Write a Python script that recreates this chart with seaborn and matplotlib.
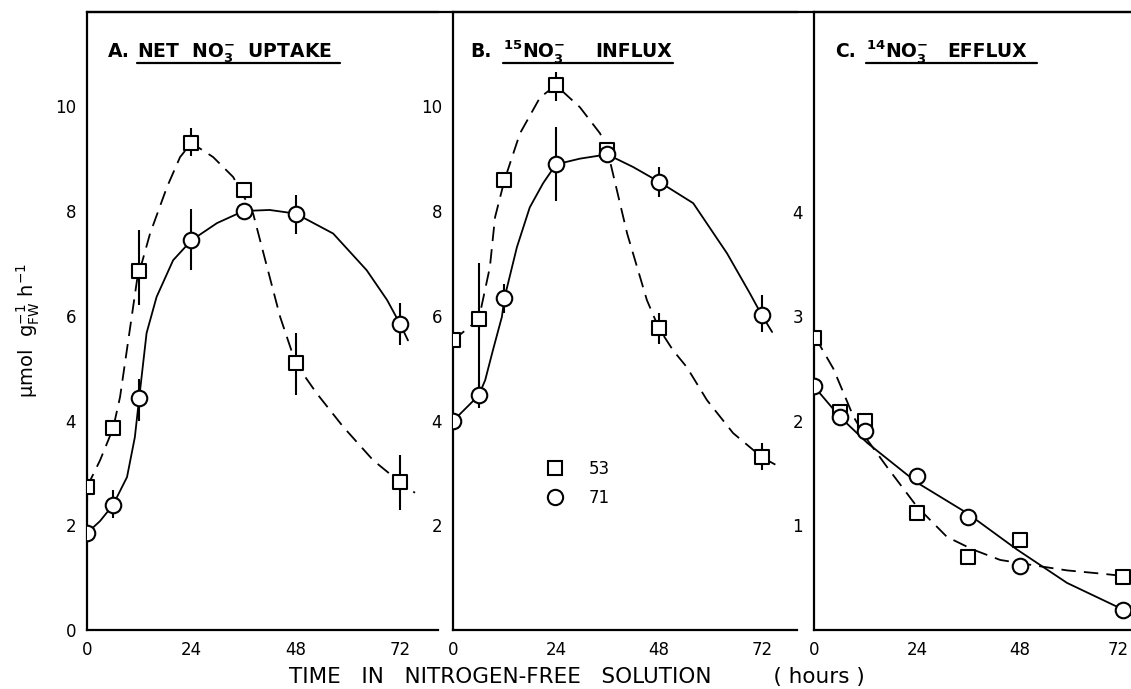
import numpy as np
import pandas as pd
import seaborn as sns
import matplotlib.pyplot as plt
import matplotlib.transforms as mtransforms
from matplotlib.lines import Line2D

# sampling times (hours)
hours = [0, 6, 12, 24, 36, 48, 72]

# panel A: net NO3- uptake
a_53 = [2.73, 3.85, 6.85, 9.30, 8.41, 5.09, 2.82]
a_53_lo = [2.45, np.nan, 6.20, 9.06, np.nan, 4.48, 2.29]
a_53_hi = [3.00, 5.06, 7.63, 9.58, 9.24, 5.67, 3.34]
a_71 = [1.85, 2.39, 4.43, 7.44, 8.00, 7.95, 5.84]
a_71_lo = [1.45, 2.14, 4.00, 6.87, 7.50, 7.57, 5.44]
a_71_hi = [np.nan, 2.67, 4.80, 8.03, np.nan, 8.30, 6.24]

# panel B: 15NO3- influx
b_53 = [5.53, 5.93, 8.59, 10.40, 9.16, 5.76, 3.30]
b_53_lo = [np.nan, 4.60, 8.15, 10.10, np.nan, 5.47, 3.05]
b_53_hi = [np.nan, 7.00, np.nan, 10.65, 9.83, 6.05, 3.57]
b_71 = [3.99, 4.48, 6.34, 8.89, 9.08, 8.56, 6.01]
b_71_lo = [np.nan, 4.23, 6.05, 8.20, np.nan, 8.27, 5.69]
b_71_hi = [np.nan, 4.71, 6.60, 9.60, np.nan, 8.85, 6.39]

# panel C: 14NO3- efflux
c_53 = [2.79, 2.08, 2.00, 1.12, 0.70, 0.86, 0.51]
c_53_lo = [np.nan, np.nan, np.nan, 0.91, 0.55, np.nan, np.nan]
c_53_hi = [np.nan, 2.39, 2.94, np.nan, np.nan, 1.39, 0.85]
c_71 = [2.33, 2.04, 1.90, 1.47, 1.08, 0.61, 0.19]
c_71_lo = [np.nan, 1.87, np.nan, np.nan, np.nan, 0.50, np.nan]
c_71_hi = [2.58, np.nan, np.nan, 1.63, 1.28, np.nan, np.nan]

# hand-drawn fitted curves
a_53_fit_t = [0, 3, 6, 7.6, 11.5, 14.5, 18.4, 21.4, 24, 29, 33.6, 38.2, 41.4, 44.4, 48, 52.8, 58.9, 65.8, 72, 75.4]
a_53_fit_y = [2.73, 3.24, 3.85, 4.45, 6.68, 7.57, 8.46, 9.03, 9.30, 9.03, 8.65, 7.95, 6.93, 5.98, 5.09, 4.52, 3.88, 3.24, 2.82, 2.62]
a_71_fit_t = [0, 3, 6, 9.2, 11, 12, 13.7, 16, 19.8, 24, 29.9, 36, 42, 48, 56.6, 64.3, 69, 72, 73.8]
a_71_fit_y = [1.85, 2.08, 2.39, 2.92, 3.68, 4.43, 5.67, 6.36, 7.06, 7.44, 7.77, 8.00, 8.02, 7.95, 7.57, 6.87, 6.30, 5.84, 5.53]
b_53_fit_t = [0, 6, 8.6, 9.8, 12, 15.6, 20.3, 24, 29.6, 34.3, 36, 40.6, 45.2, 48, 51.3, 54.5, 59.2, 65.3, 72, 76.2]
b_53_fit_y = [5.53, 5.93, 6.93, 7.88, 8.59, 9.48, 10.17, 10.40, 9.98, 9.48, 9.16, 7.57, 6.30, 5.76, 5.34, 5.02, 4.39, 3.76, 3.30, 3.11]
b_71_fit_t = [0, 6, 7.5, 9.3, 11.4, 12, 14.9, 17.9, 21, 24, 29.6, 34.3, 36, 42, 48, 56, 63.9, 69.2, 72, 74.4]
b_71_fit_y = [3.99, 4.48, 4.77, 5.34, 5.98, 6.34, 7.31, 8.07, 8.53, 8.89, 9.00, 9.06, 9.08, 8.84, 8.56, 8.15, 7.19, 6.43, 6.01, 5.69]
c_53_fit_t = [0, 1.4, 4.5, 9.2, 12.4, 17, 24, 31, 37, 43.4, 51, 59, 66.7, 73.7]
c_53_fit_y = [2.79, 2.72, 2.50, 2.04, 1.82, 1.56, 1.18, 0.89, 0.77, 0.67, 0.62, 0.57, 0.54, 0.51]
c_71_fit_t = [0, 6, 12.4, 24, 35.6, 47.3, 59, 71.3, 73.7]
c_71_fit_y = [2.33, 2.04, 1.79, 1.41, 1.12, 0.77, 0.45, 0.21, 0.14]

sns.set_style("white")
plt.rcParams["font.family"] = ["DejaVu Sans"]
plt.rcParams["mathtext.default"] = "regular"
plt.rcParams["text.color"] = "black"
plt.rcParams["axes.labelcolor"] = "black"

W, H = 1131, 689
fig = plt.figure(figsize=(W / 100, H / 100), dpi=100)


def px_axes(left, right, bottom, top):
    return fig.add_axes([left / W, (H - bottom) / H, (right - left) / W, (bottom - top) / H])


ax_a = px_axes(87, 438, 630, 12)
ax_b = px_axes(453, 797, 630, 12)
ax_c = px_axes(814, 1131, 630, 12)


def draw_panel(ax, fit53, fit71, y53, lo53, hi53, y71, lo71, hi71):
    sns.lineplot(x=fit53[0], y=fit53[1], ax=ax, color="black", lw=1.3,
                 sort=False, estimator=None, zorder=2)
    ax.lines[-1].set_dashes([8, 4.5])
    sns.lineplot(x=fit71[0], y=fit71[1], ax=ax, color="black", lw=1.3,
                 sort=False, estimator=None, zorder=2)
    ax.vlines(hours, lo53, hi53, color="black", lw=1.5, zorder=1)
    ax.vlines(hours, lo71, hi71, color="black", lw=1.5, zorder=1)
    sns.scatterplot(x=hours, y=y53, ax=ax, marker="s", s=105, color="white",
                    edgecolor="black", linewidth=1.5, zorder=4)
    sns.scatterplot(x=hours, y=y71, ax=ax, marker="o", s=125, color="white",
                    edgecolor="black", linewidth=1.5, zorder=4)
    for side in ["left", "bottom", "top"]:
        ax.spines[side].set_linewidth(1.6)
        ax.spines[side].set_color("black")
    ax.spines["right"].set_visible(False)
    ax.tick_params(direction="in", length=6, width=1.5, labelsize=12,
                   colors="black", pad=8)
    ax.set_xlabel("")
    ax.set_ylabel("")


draw_panel(ax_a, (a_53_fit_t, a_53_fit_y), (a_71_fit_t, a_71_fit_y),
           a_53, a_53_lo, a_53_hi, a_71, a_71_lo, a_71_hi)
draw_panel(ax_b, (b_53_fit_t, b_53_fit_y), (b_71_fit_t, b_71_fit_y),
           b_53, b_53_lo, b_53_hi, b_71, b_71_lo, b_71_hi)
draw_panel(ax_c, (c_53_fit_t, c_53_fit_y), (c_71_fit_t, c_71_fit_y),
           c_53, c_53_lo, c_53_hi, c_71, c_71_lo, c_71_hi)

ax_a.set_xlim(0, 80.7)
ax_a.set_ylim(0, 11.8)
ax_a.set_xticks([0, 24, 48, 72, 80.7], ["0", "24", "48", "72", ""])
ax_a.set_yticks([0, 2, 4, 6, 8, 10], ["0", "2", "4", "6", "8", "10"])

ax_b.set_xlim(0, 80.2)
ax_b.set_ylim(0, 11.8)
ax_b.set_xticks([0, 24, 48, 72, 80.2], ["0", "24", "48", "72", ""])
ax_b.set_yticks([2, 4, 6, 8, 10], ["2", "4", "6", "8", "10"])

ax_c.set_xlim(0, 73.9)
ax_c.set_ylim(0, 5.91)
ax_c.set_xticks([0, 24, 48, 72], ["0", "24", "48", "72"])
ax_c.set_yticks([1, 2, 3, 4, 5], ["1", "2", "3", "4", ""])
# nudge the last label so it stays inside the canvas
last = ax_c.get_xticklabels()[-1]
last.set_transform(last.get_transform() + mtransforms.ScaledTranslation(-5 / 100, 0, fig.dpi_scale_trans))

# panel titles with underlines
title_kw = dict(fontsize=13.5, fontweight="bold", va="baseline")
panels = [
    (ax_a, 0.060, "A.", 0.142, r"NET  NO$_\mathbf{3}^\mathbf{-}$  UPTAKE", None, None, 0.721),
    (ax_b, 0.049, "B.", 0.145, r"$^\mathbf{15}$NO$_\mathbf{3}^\mathbf{-}$", 0.413, "INFLUX", 0.640),
    (ax_c, 0.066, "C.", 0.164, r"$^\mathbf{14}$NO$_\mathbf{3}^\mathbf{-}$", 0.420, "EFFLUX", 0.703),
]
for ax, xl, letter, xt, text, x2, text2, xend in panels:
    ax.text(xl, 0.927, letter, transform=ax.transAxes, **title_kw)
    ax.text(xt, 0.927, text, transform=ax.transAxes, **title_kw)
    if text2:
        ax.text(x2, 0.927, text2, transform=ax.transAxes, **title_kw)
    ax.plot([xt, xend], [0.918, 0.918], transform=ax.transAxes, color="black",
            lw=1.6, clip_on=False)

# legend in panel B
handles = [
    Line2D([], [], marker="s", ls="none", ms=10, mfc="white", mec="black", mew=1.5),
    Line2D([], [], marker="o", ls="none", ms=11, mfc="white", mec="black", mew=1.5),
]
ax_b.legend(handles, ["53", "71"], loc="upper left", bbox_to_anchor=(0.205, 0.30),
            frameon=False, fontsize=12, handletextpad=1.0, labelspacing=0.7)

# continuous top frame line
fig.add_artist(Line2D([87 / W, 1], [(H - 12) / H, (H - 12) / H], color="black", lw=1.6))

fig.text(28 / W, (H - 330) / H, r"$\mu$mol  g$_{FW}^{-1}$ h$^{-1}$", rotation=90,
         ha="center", va="center", fontsize=14)
fig.text(577 / W, (H - 677) / H, "TIME   IN   NITROGEN-FREE   SOLUTION         ( hours )",
         ha="center", va="center", fontsize=15.5)

fig.savefig("out.png", dpi=100)
